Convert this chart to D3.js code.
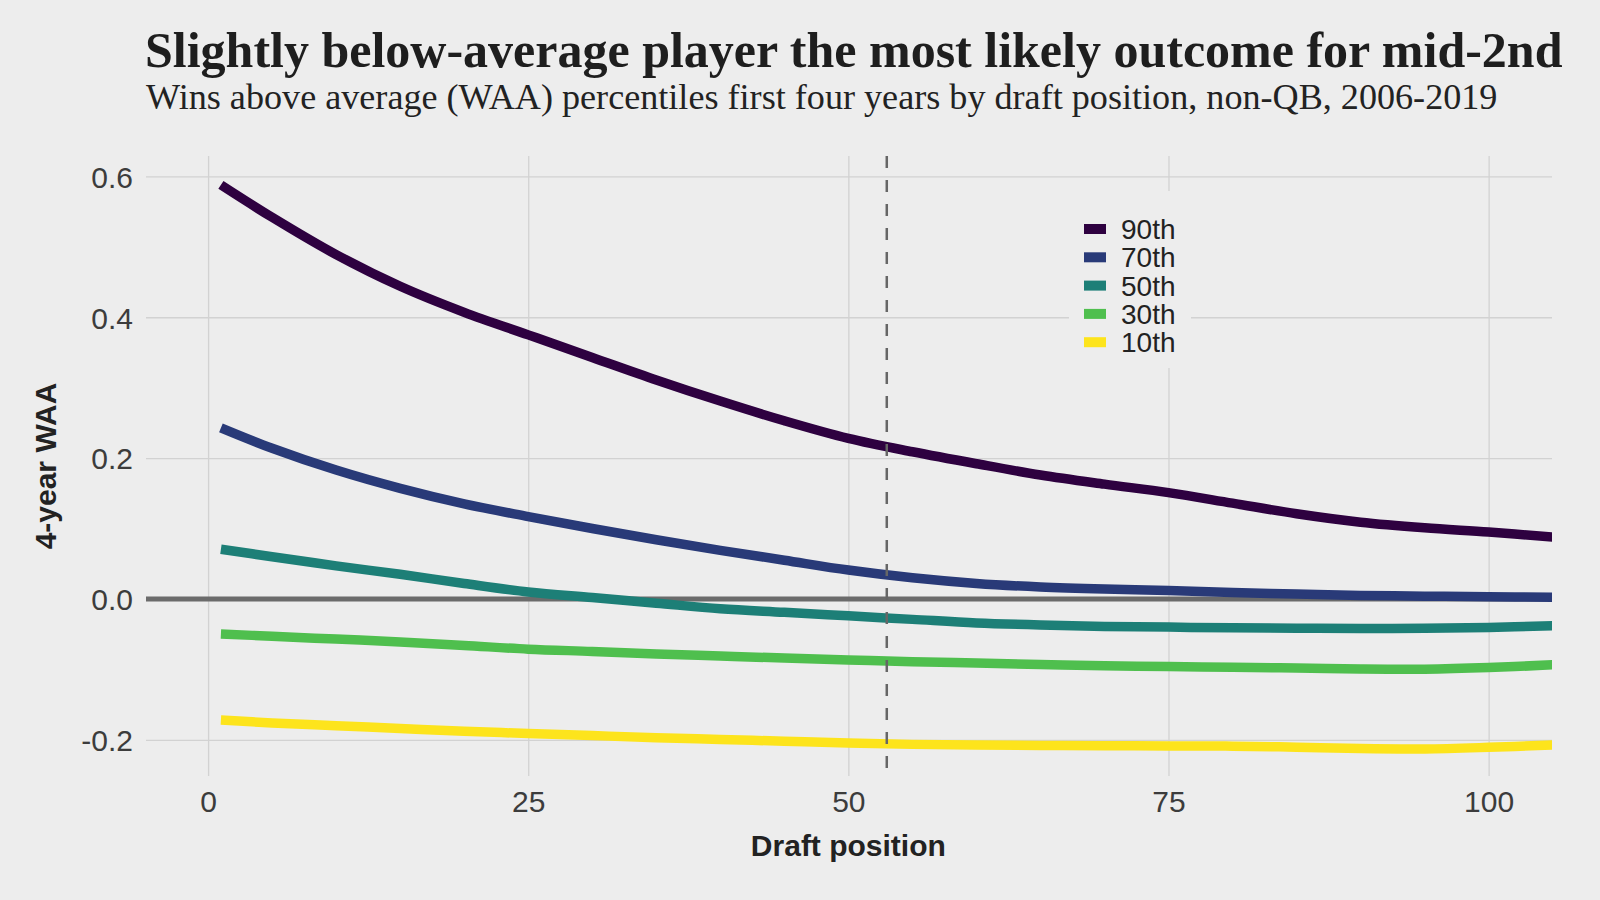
<!DOCTYPE html>
<html>
<head>
<meta charset="utf-8">
<script src="https://cdn.jsdelivr.net/npm/d3@7"></script>
<style>
  html, body { margin: 0; padding: 0; background: #ededed; }
  svg { display: block; }
</style>
</head>
<body>
<svg id="chart" width="1600" height="900"></svg>
<script>
// ---------------- data ----------------
const title = "Slightly below-average player the most likely outcome for mid-2nd";
const subtitle = "Wins above average (WAA) percentiles first four years by draft position, non-QB, 2006-2019";
const xTitle = "Draft position";
const yTitle = "4-year WAA";

const draftPositions = [1, 5, 10, 15, 20, 25, 30, 35, 40, 45, 50, 55, 60, 65, 70, 75, 80, 85, 90, 95, 100, 105];

const seriesNames = ["90th", "70th", "50th", "30th", "10th"];
const p90 = [0.588, 0.542, 0.489, 0.444, 0.407, 0.375, 0.343, 0.311, 0.281, 0.253, 0.228, 0.209, 0.192, 0.176, 0.163, 0.151, 0.136, 0.121, 0.109, 0.101, 0.095, 0.088];
const p70 = [0.243, 0.214, 0.183, 0.157, 0.135, 0.117, 0.100, 0.084, 0.069, 0.055, 0.041, 0.030, 0.022, 0.017, 0.014, 0.012, 0.009, 0.007, 0.005, 0.004, 0.003, 0.0025];
const p50 = [0.0705, 0.060, 0.047, 0.035, 0.022, 0.010, 0.002, -0.006, -0.014, -0.019, -0.024, -0.029, -0.034, -0.037, -0.039, -0.040, -0.041, -0.0415, -0.042, -0.0415, -0.0405, -0.038];
const p30 = [-0.0497, -0.053, -0.057, -0.061, -0.066, -0.0713, -0.0745, -0.078, -0.081, -0.084, -0.0866, -0.089, -0.091, -0.093, -0.095, -0.096, -0.097, -0.098, -0.0995, -0.0998, -0.0975, -0.0935];
const p10 = [-0.172, -0.176, -0.180, -0.184, -0.188, -0.191, -0.194, -0.197, -0.1995, -0.202, -0.2045, -0.2065, -0.2075, -0.208, -0.2083, -0.2088, -0.209, -0.2105, -0.2125, -0.213, -0.2107, -0.2074];
const seriesValues = [p90, p70, p50, p30, p10];
const seriesColors = ["#2e0140", "#293a78", "#1d7f77", "#4fbf4e", "#fde41c"];

const xTicks = [0, 25, 50, 75, 100];
const yTicks = [-0.2, 0.0, 0.2, 0.4, 0.6];
const markerPosition = 53;

// ---------------- layout ----------------
const W = 1600, H = 900;
const panel = { left: 146, right: 1552, top: 156, bottom: 776 };
const xDomain = [-4.85, 104.95];
const yDomain = [-0.2507, 0.629];
const bg = "#ededed";
const sans = "'Liberation Sans', Arial, Helvetica, sans-serif";
const serif = "'Liberation Serif', 'Times New Roman', Times, serif";

const svg = d3.select("#chart");
svg.append("rect").attr("width", W).attr("height", H).attr("fill", bg);

const x = d3.scaleLinear().domain(xDomain).range([panel.left, panel.right]);
const y = d3.scaleLinear().domain(yDomain).range([panel.bottom - 0.5, panel.top]);

// clip
svg.append("defs").append("clipPath").attr("id", "clip")
  .append("rect").attr("x", panel.left).attr("y", panel.top)
  .attr("width", panel.right - panel.left).attr("height", panel.bottom - panel.top);

// grid (via axes)
const gx = svg.append("g").attr("transform", `translate(0,${panel.bottom})`)
  .call(d3.axisBottom(x).tickValues(xTicks).tickFormat(d3.format("d"))
    .tickSize(-(panel.bottom - panel.top)).tickPadding(14));
gx.select(".domain").remove();
gx.selectAll(".tick line").attr("stroke", "#d2d2d2").attr("stroke-width", 1.3);
gx.selectAll(".tick text").attr("fill", "#3c3c3c").attr("font-family", sans)
  .attr("font-size", 30).attr("dy", 0).attr("y", 36);

const yFmt = d => d3.format(".1f")(d).replace("\u2212", "-");
const gy = svg.append("g").attr("transform", `translate(${panel.left},0)`)
  .call(d3.axisLeft(y).tickValues(yTicks).tickFormat(yFmt)
    .tickSize(-(panel.right - panel.left)).tickPadding(13));
gy.select(".domain").remove();
gy.selectAll(".tick line").attr("stroke", "#d2d2d2").attr("stroke-width", 1.3);
gy.selectAll(".tick text").attr("fill", "#3c3c3c").attr("font-family", sans)
  .attr("font-size", 30).attr("dy", "0.36em");

// zero line
svg.append("line")
  .attr("x1", panel.left).attr("x2", panel.right)
  .attr("y1", y(0)).attr("y2", y(0))
  .attr("stroke", "#6b6b6b").attr("stroke-width", 5);

// lines
const lineGen = d3.line()
  .x((d, i) => x(draftPositions[i]))
  .y(d => y(d))
  .curve(d3.curveCatmullRom.alpha(0.5));

const linesG = svg.append("g").attr("clip-path", "url(#clip)");
seriesValues.forEach((vals, k) => {
  linesG.append("path")
    .attr("d", lineGen(vals))
    .attr("fill", "none")
    .attr("stroke", seriesColors[k])
    .attr("stroke-width", 9.5)
    .attr("stroke-linecap", "butt")
    .attr("stroke-linejoin", "round");
});

// dashed marker line
svg.append("line")
  .attr("x1", x(markerPosition)).attr("x2", x(markerPosition))
  .attr("y1", panel.top).attr("y2", panel.bottom)
  .attr("stroke", "#666666").attr("stroke-width", 2.5)
  .attr("stroke-dasharray", "12,12");

// legend
const legend = { left: 1069, top: 191, width: 122, height: 177, firstCenter: 229, step: 28.3 };
svg.append("rect").attr("x", legend.left).attr("y", legend.top)
  .attr("width", legend.width).attr("height", legend.height).attr("fill", bg);
const lg = svg.append("g");
seriesNames.forEach((name, i) => {
  const cy = legend.firstCenter + i * legend.step;
  lg.append("rect").attr("x", 1084).attr("y", cy - 5).attr("width", 22).attr("height", 10)
    .attr("fill", seriesColors[i]);
  lg.append("text").attr("x", 1121).attr("y", cy).attr("dy", "0.355em")
    .attr("font-family", sans).attr("font-size", 28).attr("fill", "#222")
    .text(name);
});

// axis titles
svg.append("text").attr("x", (x(0) + x(100)) / 2).attr("y", 856)
  .attr("text-anchor", "middle").attr("font-family", sans).attr("font-weight", "bold")
  .attr("font-size", 30).attr("fill", "#222").text(xTitle);
svg.append("text").attr("transform", `translate(56,${(panel.top + panel.bottom) / 2}) rotate(-90)`)
  .attr("text-anchor", "middle").attr("font-family", sans).attr("font-weight", "bold")
  .attr("font-size", 30).attr("fill", "#222").text(yTitle);

// titles (fit to measured widths)
function fitText(sel, targetWidth) {
  const base = +sel.attr("font-size");
  const w = sel.node().getComputedTextLength();
  sel.attr("font-size", base * targetWidth / w);
}
const t1 = svg.append("text").attr("x", 145).attr("y", 67)
  .attr("font-family", serif).attr("font-weight", "bold").attr("font-size", 48)
  .attr("fill", "#1e1e1e").text(title);
fitText(t1, 1418);
const t2 = svg.append("text").attr("x", 146).attr("y", 109)
  .attr("font-family", serif).attr("font-size", 32)
  .attr("fill", "#222").text(subtitle);
fitText(t2, 1352);
</script>
</body>
</html>
